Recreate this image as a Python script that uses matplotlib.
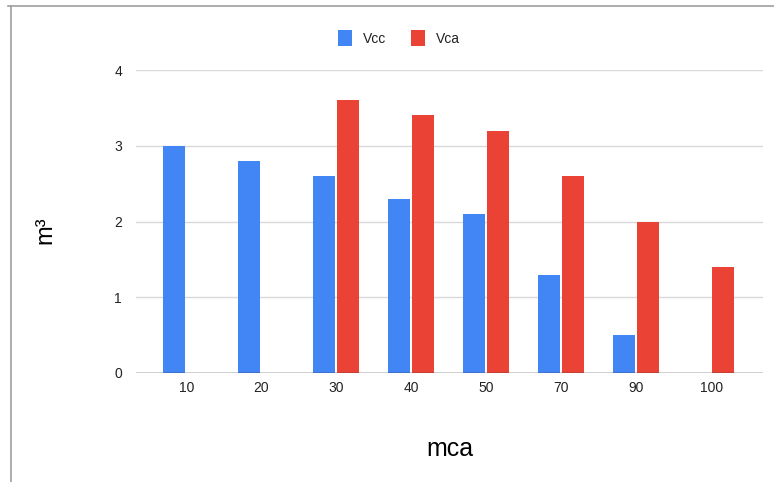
import matplotlib.pyplot as plt
import numpy as np
from matplotlib.lines import Line2D

plt.rcParams['font.family'] = ['Liberation Sans', 'DejaVu Sans']

categorias = ['10', '20', '30', '40', '50', '70', '90', '100']
vcc = [3.0, 2.8, 2.6, 2.3, 2.1, 1.3, 0.5, 0.0]
vca = [0.0, 0.0, 3.6, 3.4, 3.2, 2.6, 2.0, 1.4]

azul = '#4285F4'
vermelho = '#EA4335'

fig = plt.figure(figsize=(7.74, 4.82), dpi=100)
ax = fig.add_axes([136 / 774, 109 / 482, 627 / 774, 303 / 482])

x = np.arange(len(categorias))
largura = 0.29
desloc = 0.16
ax.bar(x - desloc, vcc, largura, color=azul, label='Vcc', zorder=3)
ax.bar(x + desloc, vca, largura, color=vermelho, label='Vca', zorder=3)

ax.set_xlim(-0.67, 7.69)
ax.set_ylim(0, 4)
ax.set_yticks([0, 1, 2, 3, 4])
ax.set_xticks(x)
ax.set_xticklabels(categorias)
ax.tick_params(axis='both', length=0, labelsize=10, colors='#222222')
ax.tick_params(axis='y', pad=10)
ax.tick_params(axis='x', pad=6)

ax.grid(axis='y', color='#d9d9d9', linewidth=1, zorder=0)
ax.axhline(0, color='#333333', linewidth=1, zorder=4)
for s in ax.spines.values():
    s.set_visible(False)

ax.set_xlabel('mca', fontsize=18, labelpad=30)
fig.text(45 / 774, 1 - 230 / 482, 'm³', rotation=90, fontsize=17,
         ha='center', va='center')

leg = fig.legend(loc='center', bbox_to_anchor=(399 / 774, 1 - 38 / 482), ncol=2,
                 frameon=False, fontsize=10, handlelength=1.0, handleheight=1.3,
                 handletextpad=0.8, columnspacing=1.8)
for t in leg.get_texts():
    t.set_color('#222222')

# moldura cinza do gráfico
fig.add_artist(Line2D([8 / 774, 1], [1 - 6 / 482] * 2, color='#9e9e9e', linewidth=1.2))
fig.add_artist(Line2D([11 / 774] * 2, [0, 1 - 6 / 482], color='#9e9e9e', linewidth=1.2))

fig.savefig('out.png', dpi=100)
